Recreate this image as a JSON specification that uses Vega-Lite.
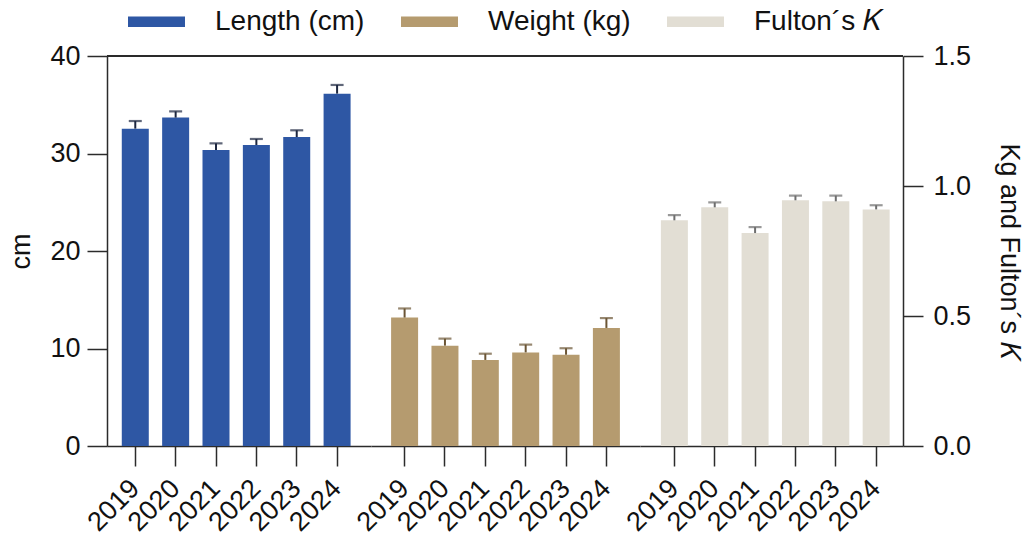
{
  "$schema": "https://vega.github.io/schema/vega-lite/v6.json",
  "autosize": {"type": "pad"},
  "padding": {"left": 7, "top": 7, "right": 5, "bottom": 5},
  "bounds": "flush",
  "spacing": 0,
  "config": {
    "font": "Liberation Sans",
    "view": {"stroke": null},
    "axis": {
      "grid": false,
      "domainColor": "#2b2b2b",
      "domainWidth": 1.5,
      "tickColor": "#2b2b2b",
      "tickWidth": 1.5,
      "tickSize": 20,
      "labelFont": "Liberation Sans",
      "labelFontSize": 27,
      "labelColor": "#111111",
      "titleFont": "Liberation Sans",
      "titleFontSize": 27,
      "titleFontWeight": "normal",
      "titleColor": "#111111"
    },
    "legend": {
      "orient": "none",
      "legendX": 35,
      "legendY": -49,
      "direction": "horizontal",
      "padding": 0,
      "symbolType": "M-2,-0.36H2V0.36H-2Z",
      "symbolSize": 812,
      "symbolStrokeWidth": 0,
      "labelFont": "Liberation Sans",
      "labelFontSize": 28,
      "labelColor": "#111111",
      "labelOffset": 44,
      "columnPadding": 36,
      "labelLimit": 400
    }
  },
  "datasets": {
    "fish": [
      {"measure": "Length (cm)", "year": "2019", "mean": 32.55, "upper": 33.33},
      {"measure": "Length (cm)", "year": "2020", "mean": 33.68, "upper": 34.32},
      {"measure": "Length (cm)", "year": "2021", "mean": 30.36, "upper": 31.04},
      {"measure": "Length (cm)", "year": "2022", "mean": 30.87, "upper": 31.49},
      {"measure": "Length (cm)", "year": "2023", "mean": 31.69, "upper": 32.38},
      {"measure": "Length (cm)", "year": "2024", "mean": 36.14, "upper": 37.03},
      {"measure": "Weight (kg)", "year": "2019", "mean": 0.494, "upper": 0.529},
      {"measure": "Weight (kg)", "year": "2020", "mean": 0.386, "upper": 0.413},
      {"measure": "Weight (kg)", "year": "2021", "mean": 0.331, "upper": 0.355},
      {"measure": "Weight (kg)", "year": "2022", "mean": 0.360, "upper": 0.390},
      {"measure": "Weight (kg)", "year": "2023", "mean": 0.351, "upper": 0.376},
      {"measure": "Weight (kg)", "year": "2024", "mean": 0.454, "upper": 0.492},
      {"measure": "Fulton´s 𝐾", "year": "2019", "mean": 0.868, "upper": 0.888},
      {"measure": "Fulton´s 𝐾", "year": "2020", "mean": 0.918, "upper": 0.937},
      {"measure": "Fulton´s 𝐾", "year": "2021", "mean": 0.819, "upper": 0.842},
      {"measure": "Fulton´s 𝐾", "year": "2022", "mean": 0.945, "upper": 0.963},
      {"measure": "Fulton´s 𝐾", "year": "2023", "mean": 0.941, "upper": 0.963},
      {"measure": "Fulton´s 𝐾", "year": "2024", "mean": 0.910, "upper": 0.926}
    ]
  },
  "hconcat": [
    {
      "width": 264,
      "height": 390,
      "data": {"name": "fish"},
      "transform": [{"filter": "datum.measure === 'Length (cm)'"}],
      "layer": [
        {
          "mark": {"type": "bar"},
          "encoding": {
            "x": {
              "field": "year", "type": "ordinal",
              "scale": {"paddingInner": 0.331, "paddingOuter": 0.436, "align": 0.42, "round": false},
              "axis": {"title": null, "labelAngle": -45, "labelAlign": "right", "labelBaseline": "middle", "labelPadding": 18}
            },
            "y": {
              "field": "mean", "type": "quantitative",
              "scale": {"domain": [0, 40], "nice": false},
              "axis": {"orient": "left", "values": [0, 10, 20, 30, 40], "title": "cm", "labelPadding": 7, "titlePadding": 14}
            },
            "color": {
              "field": "measure", "type": "nominal",
              "scale": {"domain": ["Length (cm)", "Weight (kg)", "Fulton´s 𝐾"], "range": ["#2e57a4", "#b59b6f", "#e2ded4"]},
              "legend": {"title": null}
            }
          }
        },
        {
          "mark": {"type": "rule", "color": "#1d2740", "strokeWidth": 2},
          "encoding": {
            "x": {"field": "year", "type": "ordinal"},
            "y": {"field": "mean", "type": "quantitative"},
            "y2": {"field": "upper"}
          }
        },
        {
          "mark": {"type": "tick", "color": "#1d2740", "size": 13, "thickness": 2.2},
          "encoding": {
            "x": {"field": "year", "type": "ordinal"},
            "y": {"field": "upper", "type": "quantitative"}
          }
        },
        {
          "mark": {"type": "rule", "color": "#2b2b2b", "strokeWidth": 1.5},
          "encoding": {"y": {"datum": 40, "type": "quantitative"}}
        }
      ]
    },
    {
      "width": 269,
      "height": 390,
      "data": {"name": "fish"},
      "transform": [{"filter": "datum.measure === 'Weight (kg)'"}],
      "layer": [
        {
          "mark": {"type": "bar"},
          "encoding": {
            "x": {
              "field": "year", "type": "ordinal",
              "scale": {"paddingInner": 0.331, "paddingOuter": 0.498, "align": 0.5, "round": false},
              "axis": {"title": null, "labelAngle": -45, "labelAlign": "right", "labelBaseline": "middle", "labelPadding": 18}
            },
            "y": {
              "field": "mean", "type": "quantitative",
              "scale": {"domain": [0, 1.5], "nice": false},
              "axis": null
            },
            "color": {
              "field": "measure", "type": "nominal",
              "scale": {"domain": ["Length (cm)", "Weight (kg)", "Fulton´s 𝐾"], "range": ["#2e57a4", "#b59b6f", "#e2ded4"]},
              "legend": {"title": null}
            }
          }
        },
        {
          "mark": {"type": "rule", "color": "#6b5535", "strokeWidth": 2},
          "encoding": {
            "x": {"field": "year", "type": "ordinal"},
            "y": {"field": "mean", "type": "quantitative"},
            "y2": {"field": "upper"}
          }
        },
        {
          "mark": {"type": "tick", "color": "#6b5535", "size": 13, "thickness": 2.2},
          "encoding": {
            "x": {"field": "year", "type": "ordinal"},
            "y": {"field": "upper", "type": "quantitative"}
          }
        },
        {
          "mark": {"type": "rule", "color": "#2b2b2b", "strokeWidth": 1.5},
          "encoding": {"y": {"datum": 1.5, "type": "quantitative"}}
        }
      ]
    },
    {
      "width": 263,
      "height": 390,
      "data": {"name": "fish"},
      "transform": [{"filter": "datum.measure === 'Fulton´s 𝐾'"}],
      "layer": [
        {
          "mark": {"type": "bar"},
          "encoding": {
            "x": {
              "field": "year", "type": "ordinal",
              "scale": {"paddingInner": 0.331, "paddingOuter": 0.424, "align": 0.61, "round": false},
              "axis": {"title": null, "labelAngle": -45, "labelAlign": "right", "labelBaseline": "middle", "labelPadding": 18}
            },
            "y": {
              "field": "mean", "type": "quantitative",
              "scale": {"domain": [0, 1.5], "nice": false},
              "axis": {"orient": "right", "values": [0, 0.5, 1, 1.5], "format": ".1f", "title": "Kg and Fulton´s 𝐾", "labelPadding": 10, "titlePadding": 24}
            },
            "color": {
              "field": "measure", "type": "nominal",
              "scale": {"domain": ["Length (cm)", "Weight (kg)", "Fulton´s 𝐾"], "range": ["#2e57a4", "#b59b6f", "#e2ded4"]},
              "legend": {"title": null}
            }
          }
        },
        {
          "mark": {"type": "rule", "color": "#6e6e6e", "strokeWidth": 2},
          "encoding": {
            "x": {"field": "year", "type": "ordinal"},
            "y": {"field": "mean", "type": "quantitative"},
            "y2": {"field": "upper"}
          }
        },
        {
          "mark": {"type": "tick", "color": "#6e6e6e", "size": 13, "thickness": 2.2},
          "encoding": {
            "x": {"field": "year", "type": "ordinal"},
            "y": {"field": "upper", "type": "quantitative"}
          }
        },
        {
          "mark": {"type": "rule", "color": "#2b2b2b", "strokeWidth": 1.5},
          "encoding": {"y": {"datum": 1.5, "type": "quantitative"}}
        }
      ]
    }
  ],
  "resolve": {"scale": {"y": "independent", "x": "independent"}}
}
